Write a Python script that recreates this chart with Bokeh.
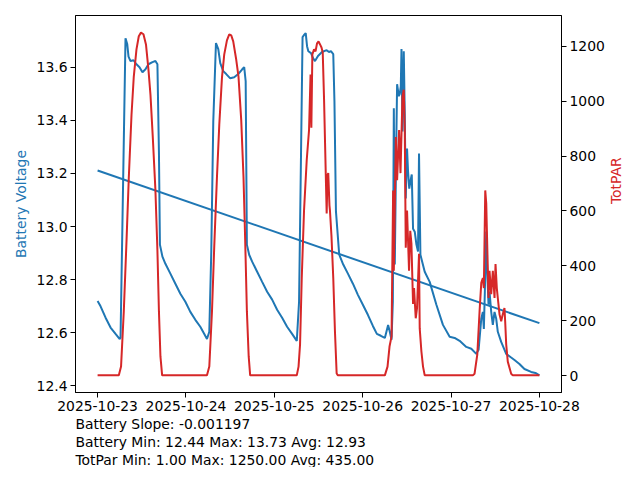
import math
import pandas as pd
from bokeh.plotting import figure
from bokeh.models import Range1d, LinearAxis, FixedTicker, DatetimeTickFormatter, Title, NumeralTickFormatter
from bokeh.embed import file_html
from bokeh.resources import INLINE

# ---------------- data ----------------
start_time = "2025-10-23 00:00"
day_ticks = ["2025-10-23", "2025-10-24", "2025-10-25", "2025-10-26", "2025-10-27", "2025-10-28"]
volt_ticks = [12.4, 12.6, 12.8, 13.0, 13.2, 13.4, 13.6]
par_ticks = [0, 200, 400, 600, 800, 1000, 1200]

batt_hours = [0.0, 0.81, 2.17, 3.52, 4.88, 5.96, 6.23, 7.58, 8.05, 8.40, 8.94, 9.75, 10.56, 11.38, 12.19, 13.0,
              13.81, 14.90, 15.71, 16.25, 16.66, 16.93, 17.61, 18.42, 19.77, 21.13, 22.48, 23.84, 25.19, 26.55,
              27.90, 28.98, 29.71,
              30.34, 30.88, 31.42, 32.15, 32.78, 33.32, 34.13, 34.94, 36.03, 37.11, 38.19, 39.28, 39.82, 40.22,
              40.55, 41.17, 41.98, 43.34, 44.70, 46.05, 47.41, 48.76, 50.12, 51.47, 52.83, 54.10,
              54.72, 55.26, 55.67, 56.07, 56.53, 56.89, 57.24, 57.97, 58.51, 59.05, 59.86, 60.95, 62.22, 62.84,
              63.38, 64.01, 64.33, 64.74, 65.63, 66.72, 67.99, 69.35, 70.70, 72.05, 73.41, 74.77, 75.85, 76.93,
              78.02, 78.91, 79.37, 79.84,
              80.19, 80.46, 80.72, 81.13, 81.35, 81.81, 82.08, 82.35, 82.54, 82.81, 83.16, 83.43, 83.70, 84.05,
              84.32, 84.65, 85.06, 85.33, 85.68, 86.14, 86.60, 87.03, 87.30, 87.68, 88.85, 90.20, 92.02, 93.80,
              95.62, 96.97, 98.33, 100.14,
              101.50, 102.85, 103.48, 104.21, 104.64, 104.91, 105.18, 105.56, 105.83, 106.18, 106.45, 106.91,
              107.35, 107.81, 108.27, 108.70, 109.62, 110.98, 112.14, 113.23, 114.58, 115.94, 117.75, 118.92, 120.0]
batt_volts = [12.72, 12.70, 12.657, 12.62, 12.596, 12.577, 12.581, 13.709, 13.687, 13.64, 13.623, 13.626, 13.611,
              13.60, 13.581, 13.592, 13.611, 13.619, 13.623, 13.611, 13.283, 12.932, 12.887, 12.86, 12.823, 12.785,
              12.747, 12.717, 12.679, 12.649, 12.623, 12.596, 12.577,
              12.604, 12.906, 13.396, 13.691, 13.668, 13.615, 13.585, 13.574, 13.558, 13.562, 13.574, 13.592, 13.60,
              13.547, 12.932, 12.894, 12.868, 12.83, 12.792, 12.755, 12.725, 12.687, 12.657, 12.623, 12.596, 12.570,
              12.717, 13.283, 13.713, 13.721, 13.728, 13.679, 13.66, 13.653, 13.634, 13.623, 13.642, 13.657, 13.664,
              13.657, 13.66, 13.649, 13.472, 13.057, 12.894, 12.857, 12.823, 12.785, 12.743, 12.706, 12.668, 12.626,
              12.596, 12.589, 12.581, 12.630, 12.604, 12.574,
              12.717, 13.445, 12.857, 13.321, 13.536, 13.491, 13.50, 13.528, 13.668, 13.358, 13.660, 13.423, 13.106,
              13.294, 13.208, 13.143, 13.177, 13.196, 12.992, 12.981, 12.932, 12.906, 13.275, 12.894, 12.830, 12.792,
              12.706, 12.630, 12.585, 12.581, 12.570, 12.547,
              12.540, 12.521, 12.536, 12.653, 12.679, 12.615, 12.755, 12.981, 12.830, 12.706, 12.755, 12.679, 12.630,
              12.679, 12.653, 12.604, 12.566, 12.521, 12.509, 12.498, 12.483, 12.464, 12.453, 12.449, 12.44]

par_hours = [0.0, 5.77, 6.37, 7.12, 7.86, 8.48, 9.21, 9.83, 10.56, 11.19, 11.78, 12.46, 13.14, 13.81, 14.36, 15.03,
             15.71, 16.25, 16.66, 17.07, 17.53,
             29.71, 30.34, 31.07, 31.69, 32.42, 33.05, 33.78, 34.40, 35.13, 35.76, 36.30, 36.84, 37.65, 38.27, 39.01,
             39.63, 40.09, 40.55, 41.04, 41.44,
             54.10, 54.58, 54.99, 55.45, 56.07, 56.80, 57.43, 57.84, 58.06, 58.33, 58.79, 59.20, 59.60, 60.01, 60.42,
             60.82, 61.15, 61.51, 61.78, 62.22, 62.44, 62.65, 62.98, 63.11, 63.52, 64.01, 64.47, 64.93, 65.28,
             78.02, 78.75, 79.29, 79.84, 80.27, 80.46, 81.00, 81.35, 81.89, 82.27, 82.81, 83.16, 83.43, 83.70, 84.05,
             84.59, 84.92, 85.24, 85.68, 85.95, 86.41, 86.76, 87.30, 87.49, 87.95, 88.39, 88.85,
             101.93, 102.39, 103.13, 103.75, 104.21, 104.64, 104.91, 105.29, 105.56, 105.78, 106.18, 106.45, 106.91,
             107.35, 107.81, 108.08, 108.43, 108.70, 109.16, 109.62, 110.05, 110.51, 110.70, 110.98, 111.41, 112.33,
             112.77, 120.0]
par_values = [1, 1, 33, 235, 492, 723, 950, 1090, 1189, 1237, 1250, 1244, 1207, 1116, 1024, 859, 675, 455, 235, 70, 1,
              1, 33, 235, 473, 723, 914, 1086, 1171, 1222, 1244, 1240, 1218, 1152, 1090, 932, 723, 492, 235, 70, 1,
              1, 33, 114, 356, 602, 785, 895, 1097, 903, 1171, 1189, 1182, 1211, 1218, 1207, 1196, 1178, 1006, 848,
              591, 730, 738, 620, 602, 510, 356, 161, 8, 1,
              1, 33, 106, 143, 675, 382, 870, 712, 895, 738, 1017, 1042, 895, 466, 602, 382, 528, 481, 261, 319, 209,
              246, 444, 172, 88, 33, 1,
              1, 7, 77, 235, 338, 356, 319, 675, 628, 503, 283, 382, 297, 382, 283, 407, 319, 283, 224, 198, 224, 246,
              198, 114, 51, 7, 1, 1]

trend_intercept = 13.211
trend_slope = -0.001197      # volts per sample
sample_minutes = 15
n_samples = 481

batt_min, batt_max, batt_avg = 12.44, 13.73, 12.93
par_min, par_max, par_avg = 1.00, 1250.00, 435.00

# ---------------- derived ----------------
t0 = pd.Timestamp(start_time)
bx = t0 + pd.to_timedelta(batt_hours, unit="h")
px = t0 + pd.to_timedelta(par_hours, unit="h")
trend_x = [t0, t0 + pd.Timedelta(minutes=sample_minutes * (n_samples - 1))]
trend_y = [trend_intercept, trend_intercept + trend_slope * (n_samples - 1)]

t_end = trend_x[1]
span = t_end - t0
pad = span * 0.05

vpad = (batt_max - batt_min) * 0.05
ppad = (par_max - par_min) * 0.05

BLUE = "#1f77b4"
RED = "#d62728"
FONT = "DejaVu Sans"
FS = "13.9px"

p = figure(x_axis_type="datetime", output_backend="svg", toolbar_location=None,
           frame_width=486, frame_height=377,
           min_border_left=75, min_border_right=79, min_border_top=15, min_border_bottom=5,
           x_range=Range1d(t0 - pad, t_end + pad),
           y_range=Range1d(batt_min - vpad, batt_max + vpad))
p.extra_y_ranges = {"par": Range1d(par_min - ppad, par_max + ppad)}

p.grid.visible = False
p.outline_line_color = "black"
p.outline_line_alpha = 1
p.outline_line_width = 1
p.background_fill_color = "white"
p.border_fill_color = "white"

p.line(bx, batt_volts, color=BLUE, line_width=2)
p.line(trend_x, trend_y, color=BLUE, line_width=2)
p.line(px, par_values, color=RED, line_width=2, y_range_name="par")

ax_right = LinearAxis(y_range_name="par", axis_label="TotPAR")
p.add_layout(ax_right, "right")

p.xaxis.ticker = FixedTicker(ticks=[pd.Timestamp(d).value // 10**6 for d in day_ticks])
fmt = "%Y-%m-%d"
p.xaxis.formatter = DatetimeTickFormatter(days=fmt, months=fmt, hours=fmt, years=fmt,
                                          hourmin=fmt, minutes=fmt, minsec=fmt, seconds=fmt,
                                          milliseconds=fmt, microseconds=fmt)
p.yaxis[0].ticker = FixedTicker(ticks=volt_ticks)
p.yaxis[0].formatter = NumeralTickFormatter(format="0.0")
p.yaxis[0].axis_label = "Battery Voltage"
ax_right.ticker = FixedTicker(ticks=par_ticks)
ax_right.axis_label_orientation = math.pi / 2

for ax in p.axis:
    ax.major_label_text_font = FONT
    ax.major_label_text_font_size = FS
    ax.major_label_text_color = "black"
    ax.axis_label_text_font = FONT
    ax.axis_label_text_font_size = FS
    ax.axis_label_text_font_style = "normal"
    ax.major_tick_in = 0
    ax.major_tick_out = 5
    ax.minor_tick_out = 0
    ax.minor_tick_in = 0
    ax.axis_line_color = "black"
    ax.major_tick_line_color = "black"
    ax.major_label_standoff = 3

p.xaxis.axis_label_standoff = 0
p.yaxis[0].axis_label_text_color = BLUE
ax_right.axis_label_text_color = RED
ax_right.axis_label_standoff = 8

lines = [
    f"Battery Slope: {trend_slope:.6f}",
    f"Battery Min: {batt_min:.2f} Max: {batt_max:.2f} Avg: {batt_avg:.2f}",
    f"TotPar Min: {par_min:.2f} Max: {par_max:.2f} Avg: {par_avg:.2f}",
]
for i, txt in enumerate(lines):
    t = Title(text=txt, align="left", text_font=FONT, text_font_size=FS,
              text_font_style="normal", text_color="black",
              standoff=0, offset=0, text_line_height=0.9)
    p.add_layout(t, "below")

open("out.html", "w").write(file_html(p, INLINE))
